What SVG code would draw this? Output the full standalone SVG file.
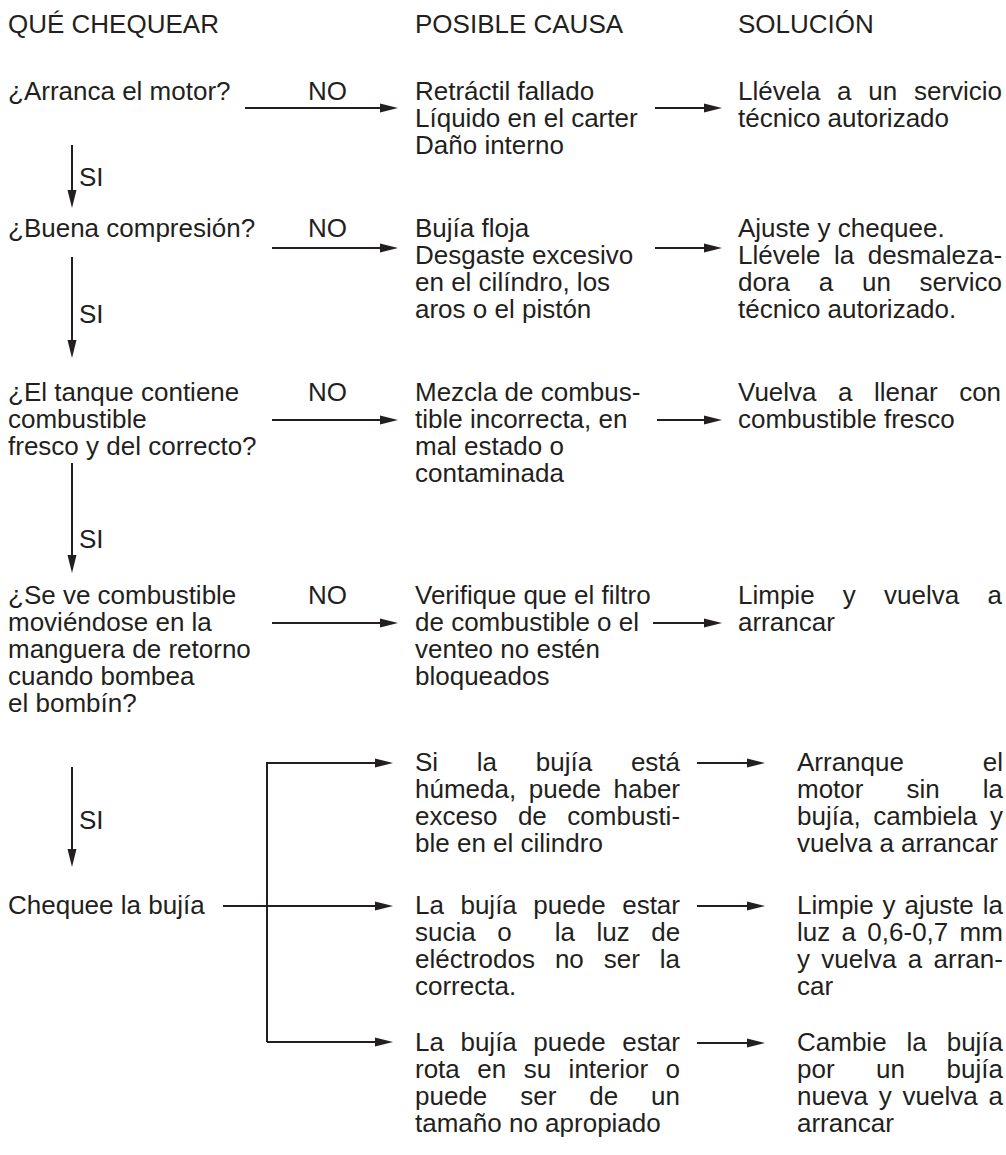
<svg xmlns="http://www.w3.org/2000/svg" width="1006" height="1155" viewBox="0 0 1006 1155">
<defs>
<style>
text{font-family:"Liberation Sans",Arial,Helvetica,sans-serif;font-size:26px;fill:#231f20}
.ln{fill:none;stroke:#231f20;stroke-width:2;marker-end:url(#ah)}
</style>
<marker id="ah" markerUnits="userSpaceOnUse" markerWidth="20" markerHeight="12" refX="0" refY="4.5" orient="auto" overflow="visible">
<path d="M0,0 L18,4.5 L0,9 Z" fill="#231f20"/>
</marker>
</defs>
<rect width="1006" height="1155" fill="#ffffff"/>
<g id="headers">
<text x="8" y="33">QUÉ CHEQUEAR</text>
<text x="415" y="33">POSIBLE CAUSA</text>
<text x="738" y="33">SOLUCIÓN</text>
</g>
<g id="connectors">
<path class="ln" d="M245,108 H380"/>
<path class="ln" d="M655,108 H704"/>
<path class="ln" d="M272,248 H380"/>
<path class="ln" d="M655,248 H704"/>
<path class="ln" d="M272,420 H380"/>
<path class="ln" d="M657,420 H704"/>
<path class="ln" d="M272,623 H380"/>
<path class="ln" d="M653,623 H704"/>
<path class="ln" d="M72,145 V190"/>
<path class="ln" d="M72,257 V340"/>
<path class="ln" d="M72,463 V555"/>
<path class="ln" d="M72,767 V849"/>
<path class="ln" d="M267,1042 V763 H375"/>
<path class="ln" d="M223,906 H375"/>
<path class="ln" d="M267,1042 H375"/>
<path class="ln" d="M697,763 H747"/>
<path class="ln" d="M697,906 H747"/>
<path class="ln" d="M697,1043 H747"/>
</g>
<g id="labels">
<text x="308" y="100">NO</text>
<text x="308" y="237">NO</text>
<text x="308" y="401">NO</text>
<text x="308" y="604">NO</text>
<text x="79" y="186">SI</text>
<text x="79" y="323">SI</text>
<text x="79" y="548">SI</text>
<text x="79" y="829">SI</text>
</g>
<g id="q1"><text x="8" y="100">¿Arranca el motor?</text></g>
<g id="c1">
<text x="415" y="100">Retráctil fallado</text>
<text x="415" y="127">Líquido en el carter</text>
<text x="415" y="154">Daño interno</text>
</g>
<g id="s1">
<text x="738" y="100" word-spacing="9.5">Llévela a un servicio</text>
<text x="738" y="127">técnico autorizado</text>
</g>
<g id="q2"><text x="8" y="237">¿Buena compresión?</text></g>
<g id="c2">
<text x="415" y="237">Bujía floja</text>
<text x="415" y="264">Desgaste excesivo</text>
<text x="415" y="291">en el cilíndro, los</text>
<text x="415" y="318">aros o el pistón</text>
</g>
<g id="s2">
<text x="738" y="237">Ajuste y chequee.</text>
<text x="738" y="264" word-spacing="6.3">Llévele la desmaleza-</text>
<text x="738" y="291" word-spacing="21.5">dora a un servico</text>
<text x="738" y="318">técnico autorizado.</text>
</g>
<g id="q3">
<text x="8" y="401">¿El tanque contiene</text>
<text x="8" y="428">combustible</text>
<text x="8" y="455">fresco y del correcto?</text>
</g>
<g id="c3">
<text x="415" y="401">Mezcla de combus-</text>
<text x="415" y="428">tible incorrecta, en</text>
<text x="415" y="455">mal estado o</text>
<text x="415" y="482">contaminada</text>
</g>
<g id="s3">
<text x="738" y="401" word-spacing="14.3">Vuelva a llenar con</text>
<text x="738" y="428">combustible fresco</text>
</g>
<g id="q4">
<text x="8" y="604">¿Se ve combustible</text>
<text x="8" y="631">moviéndose en la</text>
<text x="8" y="658">manguera de retorno</text>
<text x="8" y="685">cuando bombea</text>
<text x="8" y="712">el bombín?</text>
</g>
<g id="c4">
<text x="415" y="604">Verifique que el filtro</text>
<text x="415" y="631">de combustible o el</text>
<text x="415" y="658">venteo no estén</text>
<text x="415" y="685">bloqueados</text>
</g>
<g id="s4">
<text x="738" y="604" word-spacing="21">Limpie y vuelva a</text>
<text x="738" y="631">arrancar</text>
</g>
<g id="q5"><text x="8" y="914">Chequee la bujía</text></g>
<g id="c5a">
<text x="415" y="771" word-spacing="31.5">Si la bujía está</text>
<text x="415" y="798" word-spacing="5.3">húmeda, puede haber</text>
<text x="415" y="825" word-spacing="13.3">exceso de combusti-</text>
<text x="415" y="852">ble en el cilindro</text>
</g>
<g id="s5a">
<text x="797" y="771" word-spacing="71.6">Arranque el</text>
<text x="797" y="798" word-spacing="35.8">motor sin la</text>
<text x="797" y="825" word-spacing="5.4">bujía, cambiela y</text>
<text x="797" y="852">vuelva a arrancar</text>
</g>
<g id="c5b">
<text x="415" y="914" word-spacing="9.3">La bujía puede estar</text>
<text x="415" y="941" word-spacing="14.3" xml:space="preserve" style="white-space:pre">sucia o  la luz de</text>
<text x="415" y="968" word-spacing="12.7">eléctrodos no ser la</text>
<text x="415" y="995">correcta.</text>
</g>
<g id="s5b">
<text x="797" y="914" word-spacing="1.7">Limpie y ajuste la</text>
<text x="797" y="941" word-spacing="4.1">luz a 0,6-0,7 mm</text>
<text x="797" y="968" word-spacing="4.1">y vuelva a arran-</text>
<text x="797" y="995">car</text>
</g>
<g id="c5c">
<text x="415" y="1051" word-spacing="9.3">La bujía puede estar</text>
<text x="415" y="1078" word-spacing="10.25">rota en su interior o</text>
<text x="415" y="1105" word-spacing="25.7">puede ser de un</text>
<text x="415" y="1132">tamaño no apropiado</text>
</g>
<g id="s5c">
<text x="797" y="1051" word-spacing="12.7">Cambie la bujía</text>
<text x="797" y="1078" word-spacing="34.3">por un bujía</text>
<text x="797" y="1105" word-spacing="3.6">nueva y vuelva a</text>
<text x="797" y="1132">arrancar</text>
</g>
</svg>
